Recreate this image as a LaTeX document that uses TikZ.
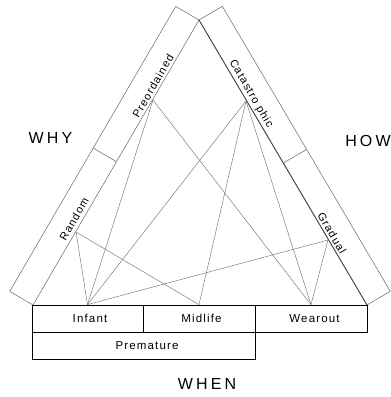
\documentclass[tikz,border=0pt]{standalone}
\usepackage{fontspec}
\setmainfont{Liberation Sans}
\newfontfamily\cellfont[LetterSpace=10]{Liberation Sans}
\newfontfamily\headfont[LetterSpace=20]{Liberation Sans}
\begin{document}
\begin{tikzpicture}[x=1pt,y=-1pt,
  band/.style={draw=black!60, line width=0.5pt},
  link/.style={draw=black!55, line width=0.45pt},
  cell/.style={draw=black, line width=0.8pt, minimum height=27pt, inner sep=0pt,
    font=\cellfont\fontsize{11.5}{12}\selectfont},
  tag/.style={font=\cellfont\fontsize{11}{12}\selectfont, inner sep=0pt},
  head/.style={font=\headfont\fontsize{16}{18}\selectfont, inner sep=0pt}]
\useasboundingbox (0,0) rectangle (391,397);

% the two slanted bands meeting at the apex
\coordinate (apex) at (199,20);
\coordinate (lfoot) at (33,305);
\coordinate (rfoot) at (367,305);
\draw[band] (apex) -- (lfoot) -- (9.7,291.4) -- (175.7,6.4) -- cycle;
\draw[band] (apex) -- (rfoot) -- (390.3,291.3) -- (222.3,6.3) -- cycle;
\draw[draw=black!70, line width=0.9pt] (apex) -- (rfoot);
% band dividers
\draw[band] (116.5,161.7) -- (93.2,148.1);
\draw[band] (283.3,163.1) -- (306.6,149.4);

% band labels
\node[tag, rotate=60]  (preordained)  at (153,86)  {Preordained};
\node[tag, rotate=60]  (random)       at (74,219)  {Random};
\node[tag, rotate=-60] (catastrophic) at (251,94)  {Catastro phic};
\node[tag, rotate=-60] (gradual)      at (332,233) {Gradual};

% attachment points on the inner band edges
\coordinate (pP) at (153,100);
\coordinate (pR) at (76,232);
\coordinate (pC) at (246,101);
\coordinate (pG) at (328,240);

% bottom row of cells (labels sit a little right of centre)
\node[cell, minimum width=111pt] (infant)    at (87.5,318.5)  {\hspace*{5pt}Infant};
\node[cell, minimum width=112pt] (midlife)   at (199,318.5)   {\hspace*{5pt}Midlife};
\node[cell, minimum width=112pt] (wearout)   at (311,318.5)   {\hspace*{7pt}Wearout};
\node[cell, minimum width=223pt] (premature) at (143.5,345.5) {\hspace*{7pt}Premature};

% connectors
\draw[link] (infant.north) -- (pR);
\draw[link] (infant.north) -- (pP);
\draw[link] (infant.north) -- (pC);
\draw[link] (infant.north) -- (pG);
\draw[link] (midlife.north) -- (pR);
\draw[link] (midlife.north) -- (pC);
\draw[link] (wearout.north) -- (pP);
\draw[link] (wearout.north) -- (pC);
\draw[link] (wearout.north) -- (pG);

% side headings
\node[head] (why)  at (50.5,137.5) {WHY};
\node[head] (how)  at (368,141)    {HOW};
\node[head] (when) at (207,384)    {WHEN};
\end{tikzpicture}
\end{document}
